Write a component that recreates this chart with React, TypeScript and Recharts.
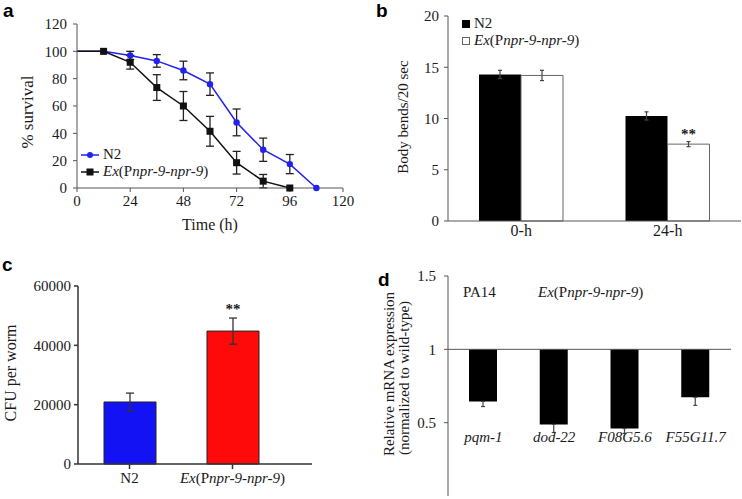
import {
  LineChart,
  Line,
  BarChart,
  Bar,
  Cell,
  XAxis,
  YAxis,
  ErrorBar,
  LabelList,
  ReferenceLine,
  Label,
} from 'recharts'

const SERIF = '"Liberation Serif", "Times New Roman", serif'
const INK = '#1a1a1a'
const AXIS = '#555'
const EX = 'Ex(Pnpr-9-npr-9)'

// a: survival curves
const times = [0, 12, 24, 36, 48, 60, 72, 84, 96, 108]
const n2Survival = [100, 100, 97, 93, 86, 76, 48, 28, 17.5, 0]
const n2SurvivalErr = [0, 0, 3, 4.6, 6.8, 8.2, 9.8, 8.5, 7, 0]
const exSurvival = [100, 100, 92, 73.5, 60, 41.5, 18.5, 5, 0, null]
const exSurvivalErr = [0, 0, 5, 9.4, 10.6, 10.9, 8.3, 4.9, 0, null]
const timeTicks = [0, 24, 48, 72, 96, 120]
const survivalTicks = [0, 20, 40, 60, 80, 100, 120]

// b: body bends
const bendTimes = ['0-h', '24-h']
const n2Bends = [14.3, 10.25]
const n2BendsErr = [0.4, 0.4]
const exBends = [14.2, 7.5]
const exBendsErr = [0.5, 0.25]
const bendSig = ['', '**']
const bendTicks = [0, 5, 10, 15, 20]

// c: CFU
const cfuGroups = ['N2', EX]
const cfuValues = [20900, 44800]
const cfuErr = [3000, 4400]
const cfuSig = ['', '**']
const cfuColors = ['#1212f5', '#ff0a0a']
const cfuTicks = [0, 20000, 40000, 60000]

// d: relative mRNA expression
const genes = ['pqm-1', 'dod-22', 'F08G5.6', 'F55G11.7']
const geneExpression = [0.645, 0.488, 0.46, 0.673]
const geneErrLow = [0.035, 0.055, 0.033, 0.055]
const expressionTicks = [0, 0.5, 1, 1.5]

const survivalData = times.map((t, i) => ({
  t,
  n2: n2Survival[i],
  n2Err: n2SurvivalErr[i],
  ex: exSurvival[i] ?? undefined,
  exErr: exSurvivalErr[i] ?? undefined,
}))

const bendData = bendTimes.map((name, i) => ({
  name,
  n2: n2Bends[i],
  n2Err: n2BendsErr[i],
  ex: exBends[i],
  exErr: exBendsErr[i],
  sig: bendSig[i],
}))

const cfuData = cfuGroups.map((name, i) => ({ name, cfu: cfuValues[i], err: cfuErr[i], sig: cfuSig[i] }))

// bars hang from 1 (wild-type level), so plot the difference
const geneData = genes.map((name, i) => ({
  name,
  rel: geneExpression[i] - 1,
  err: [geneErrLow[i], 0],
}))

const tickStyle = { fontFamily: SERIF, fontSize: 15, fill: INK }

function ExText() {
  return (
    <>
      <tspan fontStyle="italic">Ex</tspan>
      <tspan>(P</tspan>
      <tspan fontStyle="italic">npr-9-npr-9</tspan>
      <tspan>)</tspan>
    </>
  )
}

function ExHtml() {
  return (
    <span>
      <i>Ex</i>(P<i>npr-9-npr-9</i>)
    </span>
  )
}

// rotated axis title at a chosen centre (chart coords)
const rotatedTitle = (text: string, cx: number, cy: number, size: number) => () => (
  <text
    x={cx}
    y={cy}
    transform={`rotate(-90 ${cx} ${cy})`}
    textAnchor="middle"
    dominantBaseline="central"
    fontFamily={SERIF}
    fontSize={size}
    fill={INK}
  >
    {text}
  </text>
)

function CircleDot(props: any) {
  const { cx, cy, index } = props
  if (index === 0 || cy == null) return <g key={`n2dot-${index}`} />
  return <circle key={`n2dot-${index}`} cx={cx} cy={cy} r={3.2} fill="#2222ee" />
}

function SquareDot(props: any) {
  const { cx, cy, index } = props
  if (index === 0 || cy == null) return <g key={`exdot-${index}`} />
  return <rect key={`exdot-${index}`} x={cx - 3.5} y={cy - 3.5} width={7} height={7} fill="#111" />
}

function CfuTick(props: any) {
  const { x, y, payload } = props
  return (
    <text x={x} y={y} dy={12} textAnchor="middle" {...tickStyle}>
      {payload.value === EX ? <ExText /> : payload.value}
    </text>
  )
}

function GeneTick(props: any) {
  const { x, y, payload } = props
  return (
    <text x={x} y={y - 54} textAnchor="middle" fontStyle="italic" {...tickStyle}>
      {payload.value}
    </text>
  )
}

const letter = (l: string, left: number, top: number) => (
  <div
    style={{
      position: 'absolute',
      left,
      top,
      fontFamily: '"Liberation Sans", Arial, sans-serif',
      fontWeight: 'bold',
      fontSize: 19,
      lineHeight: '20px',
    }}
  >
    {l}
  </div>
)

function SurvivalPanel() {
  return (
    <LineChart width={371} height={240} data={survivalData} margin={{ top: 24, right: 28, bottom: 0, left: 0 }}>
      <XAxis
        type="number"
        dataKey="t"
        domain={[0, 120]}
        ticks={timeTicks}
        height={52}
        stroke={AXIS}
        tick={tickStyle}
        tickSize={4}
        tickMargin={3}
      >
        <Label value="Time (h)" position="insideBottom" offset={10} style={{ fontFamily: SERIF, fontSize: 16, fill: INK }} />
      </XAxis>
      <YAxis
        domain={[0, 120]}
        ticks={survivalTicks}
        width={77}
        stroke={AXIS}
        tick={tickStyle}
        tickSize={4}
        tickMargin={6}
      >
        <Label content={rotatedTitle('% survival', 27, 112, 17)} />
      </YAxis>
      <Line dataKey="n2" stroke="#2222ee" strokeWidth={1.5} dot={CircleDot} isAnimationActive={false}>
        <ErrorBar dataKey="n2Err" direction="y" width={4} stroke="#222" strokeWidth={1.3} />
      </Line>
      <Line dataKey="ex" stroke="#111" strokeWidth={1.5} dot={SquareDot} isAnimationActive={false}>
        <ErrorBar dataKey="exErr" direction="y" width={4} stroke="#222" strokeWidth={1.3} />
      </Line>
    </LineChart>
  )
}

function BendsPanel() {
  return (
    <BarChart width={371} height={251} data={bendData} barGap={0} margin={{ top: 16, right: 1, bottom: 0, left: 0 }}>
      <XAxis dataKey="name" height={30} stroke={AXIS} tickLine={false} tick={{ ...tickStyle, fontSize: 16 }} tickSize={3} tickMargin={1} />
      <YAxis domain={[0, 20]} ticks={bendTicks} width={77} stroke={AXIS} tick={tickStyle} tickSize={4} tickMargin={5}>
        <Label content={rotatedTitle('Body bends/20 sec', 32, 117, 15)} />
      </YAxis>
      <Bar dataKey="n2" fill="#000" barSize={42} isAnimationActive={false}>
        <ErrorBar dataKey="n2Err" width={2} stroke="#444" strokeWidth={1.2} />
      </Bar>
      <Bar dataKey="ex" fill="#fff" stroke="#666" strokeWidth={1} barSize={42} isAnimationActive={false}>
        <ErrorBar dataKey="exErr" width={2} stroke="#444" strokeWidth={1.2} />
        <LabelList dataKey="sig" position="top" offset={5} style={{ fontFamily: SERIF, fontSize: 15, fontWeight: 'bold', fill: INK }} />
      </Bar>
    </BarChart>
  )
}

function CfuPanel() {
  return (
    <BarChart width={371} height={259} data={cfuData} margin={{ top: 46, right: 59, bottom: 0, left: 0 }}>
      <XAxis
        dataKey="name"
        height={35}
        padding={{ left: 0, right: 28 }}
        stroke="#333"
        strokeWidth={1.5}
        tick={<CfuTick />}
        tickSize={5}
        tickMargin={2}
      />
      <YAxis domain={[0, 60000]} ticks={cfuTicks} width={78} stroke="#333" strokeWidth={1.5} tick={tickStyle} tickSize={4} tickMargin={3}>
        <Label content={rotatedTitle('CFU per worm', 10, 133, 16)} />
      </YAxis>
      <Bar dataKey="cfu" barSize={52} stroke="#222" strokeWidth={1} isAnimationActive={false}>
        {cfuData.map((_, i) => (
          <Cell key={`cfu-${i}`} fill={cfuColors[i]} />
        ))}
        <ErrorBar dataKey="err" width={4} stroke="#333" strokeWidth={1.3} />
        <LabelList dataKey="sig" position="top" offset={17} style={{ fontFamily: SERIF, fontSize: 15, fontWeight: 'bold', fill: INK }} />
      </Bar>
    </BarChart>
  )
}

function ExpressionPanel() {
  return (
    <BarChart width={371} height={259} data={geneData} margin={{ top: 36, right: 11, bottom: 0, left: 0 }} style={{ overflow: 'visible' }}>
      <XAxis dataKey="name" height={3} axisLine={false} tickLine={false} tickSize={0} tickMargin={0} tick={<GeneTick />} />
      <YAxis
        domain={[-1, 0.5]}
        ticks={expressionTicks.map((v) => v - 1)}
        tickFormatter={(v: number) => String(Math.round((v + 1) * 10) / 10)}
        width={77}
        stroke={AXIS}
        tick={tickStyle}
        tickSize={4}
        tickMargin={8}
      >
        <Label content={rotatedTitle('Relative mRNA expression', 18, 134, 15)} />
        <Label content={rotatedTitle('(normalized to wild-type)', 33, 138, 15)} />
      </YAxis>
      <ReferenceLine y={0} stroke={AXIS} strokeWidth={1} />
      <Bar dataKey="rel" fill="#000" barSize={28} isAnimationActive={false}>
        <ErrorBar dataKey="err" width={2} stroke="#444" strokeWidth={1.2} />
      </Bar>
    </BarChart>
  )
}

const legendText = { fontFamily: SERIF, fontSize: 15, color: INK, lineHeight: '17px', whiteSpace: 'nowrap' as const }

export default function App() {
  return (
    <div
      style={{
        position: 'absolute',
        left: 0,
        top: 0,
        width: 742,
        height: 499,
        background: '#fff',
        overflow: 'hidden',
        fontFamily: SERIF,
      }}
    >
      <div style={{ position: 'absolute', left: 0, top: 0 }}>
        <SurvivalPanel />
      </div>
      <div style={{ position: 'absolute', left: 371, top: 0 }}>
        <BendsPanel />
      </div>
      <div style={{ position: 'absolute', left: 0, top: 240 }}>
        <CfuPanel />
      </div>
      <div style={{ position: 'absolute', left: 371, top: 240 }}>
        <ExpressionPanel />
      </div>

      {/* legend a */}
      <div style={{ position: 'absolute', left: 81, top: 146, ...legendText }}>
        <div style={{ display: 'flex', alignItems: 'center' }}>
          <svg width={18} height={10} style={{ marginRight: 4 }}>
            <line x1={0} y1={5} x2={18} y2={5} stroke="#2222ee" strokeWidth={1.5} />
            <circle cx={9} cy={5} r={3} fill="#2222ee" />
          </svg>
          N2
        </div>
        <div style={{ display: 'flex', alignItems: 'center' }}>
          <svg width={18} height={10} style={{ marginRight: 4 }}>
            <line x1={0} y1={5} x2={18} y2={5} stroke="#111" strokeWidth={1.5} />
            <rect x={5.5} y={1.5} width={7} height={7} fill="#111" />
          </svg>
          <ExHtml />
        </div>
      </div>

      {/* legend b */}
      <div style={{ position: 'absolute', left: 462, top: 15, ...legendText }}>
        <div style={{ display: 'flex', alignItems: 'center' }}>
          <svg width={8} height={8} style={{ marginRight: 4 }}>
            <rect x={0} y={0} width={8} height={8} fill="#000" />
          </svg>
          N2
        </div>
        <div style={{ display: 'flex', alignItems: 'center' }}>
          <svg width={8} height={8} style={{ marginRight: 4 }}>
            <rect x={0.5} y={0.5} width={7} height={7} fill="#fff" stroke="#666" />
          </svg>
          <ExHtml />
        </div>
      </div>

      {/* annotations d */}
      <div style={{ position: 'absolute', left: 463, top: 284, ...legendText }}>PA14</div>
      <div style={{ position: 'absolute', left: 538, top: 284, ...legendText }}>
        <ExHtml />
      </div>

      {letter('a', 3, 1)}
      {letter('b', 376, 1)}
      {letter('c', 2, 255)}
      {letter('d', 378, 270)}
    </div>
  )
}
